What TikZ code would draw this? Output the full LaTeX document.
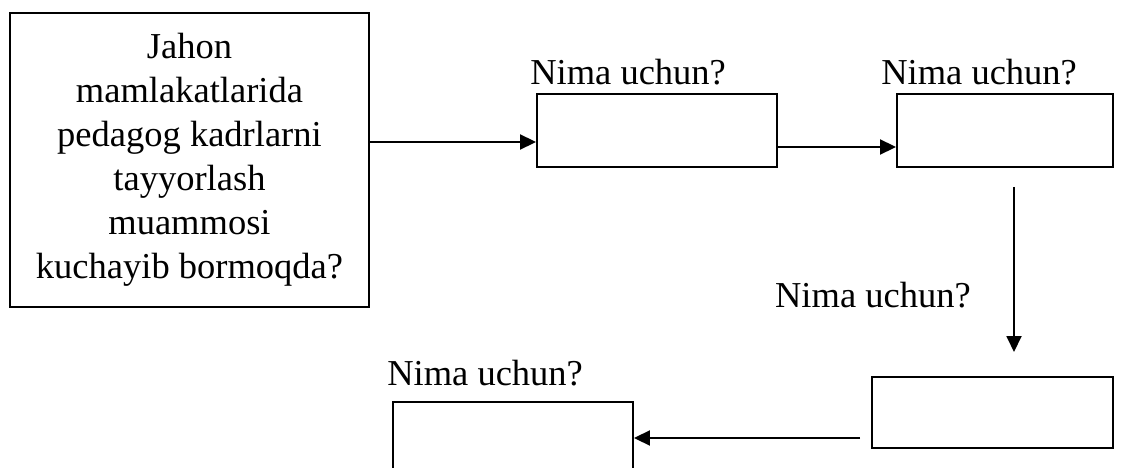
\documentclass[tikz,border=0pt]{standalone}
\usepackage{fontspec}
\setmainfont{Liberation Serif}
\usetikzlibrary{arrows.meta,
positioning}

\begin{document}
\begin{tikzpicture} [x=1pt, y=-1pt,
    -{Triangle[length=16pt, width=15pt]},
    line width=1.9pt,
    main node/.style={rectangle, draw, fill=white,
        align=center, inner sep = 0pt},
    every node/.style={font=\fontsize{36.5}{44}\selectfont}
  ]

  \useasboundingbox (0,0) rectangle (1128,468);
  \clip (0,0) rectangle (1128,468);

  \node [main node,
    minimum width = 359pt,
    minimum height = 294pt
  ] (jahon) at (189.5, 160) {Jahon\\mamlakatlarida\\pedagog kadrlarni\\
      tayyorlash\\muammosi\\kuchayib bormoqda?};

  \node [main node,
    minimum width = 240pt,
    minimum height = 73pt
  ] (why1) at (657, 130.5) {};
  \node [anchor = base west] (q1) at (526, 85) {Nima uchun?};

  \node [main node,
    minimum width = 216pt,
    minimum height = 73pt
  ] (why2) at (1005, 130.5) {};
  \node [anchor = base west] (q2) at (877, 85) {Nima uchun?};

  \node [main node,
    minimum width = 241pt,
    minimum height = 71pt
  ] (why3) at (992.5, 412.5) {};
  \node [anchor = base east] (q3) at (975, 307) {Nima uchun?};

  \node [main node,
    minimum width = 240pt,
    minimum height = 80pt
  ] (why4) at (513, 442) {};
  \node [anchor = base west] (q4) at (383, 385) {Nima uchun?};

  \draw (jahon.east |- 0,142) -> (why1.west |- 0,142);
  \draw (why1.east |- 0,147) -> (why2.west |- 0,147);

  \coordinate (down1) at (1014, 187);
  \coordinate (down2) at (1014, 352);
  \draw (down1) -> (down2);

  \coordinate (back) at (860, 438);
  \draw (back) -> (why4.east |- back);

\end{tikzpicture}
\end{document}
